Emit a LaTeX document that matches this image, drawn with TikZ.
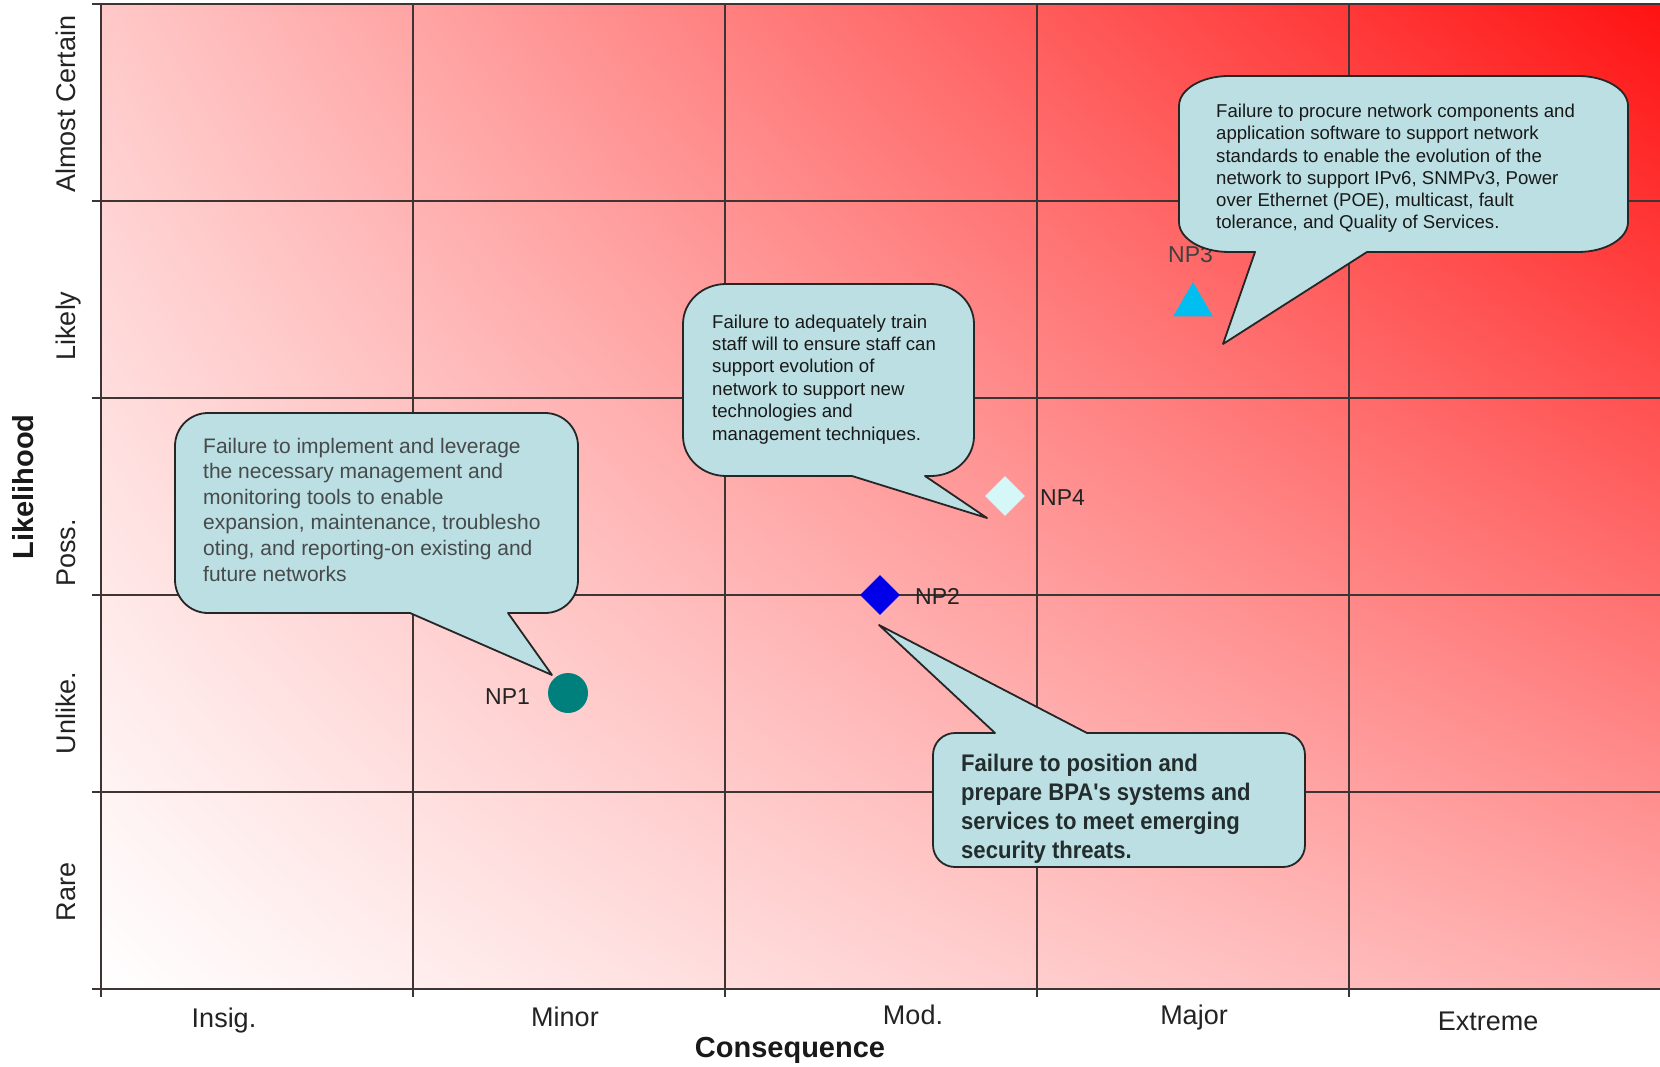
\documentclass[tikz,border=0pt]{standalone}
\usepackage{fontspec}
\setmainfont{Liberation Sans}
\newfontfamily\condbold[FakeStretch=0.92]{Liberation Sans}
\usetikzlibrary{shapes.geometric,shadings}

\definecolor{heatUL}{RGB}{255,200,200}
\definecolor{heatUR}{RGB}{255,18,18}
\definecolor{heatLR}{RGB}{255,172,172}
\definecolor{gridline}{RGB}{62,52,52}
\definecolor{calloutfill}{RGB}{187,223,227}
\definecolor{npone}{RGB}{0,128,124}
\definecolor{nptwo}{RGB}{0,0,232}
\definecolor{npthree}{RGB}{0,190,240}
\definecolor{npfour}{RGB}{214,247,248}
\definecolor{labeltext}{RGB}{35,35,35}

\begin{document}
\begin{tikzpicture}[x=1pt,y=-1pt,
  gridstroke/.style={draw=gridline,line width=1.6pt},
  catlabel/.style={font=\fontsize{27}{32}\selectfont,text=labeltext,anchor=base,inner sep=0pt},
  axistitle/.style={font=\bfseries\fontsize{29}{34}\selectfont,text=black!90,anchor=base,inner sep=0pt},
  nplabel/.style={font=\fontsize{23}{27}\selectfont,text=labeltext,anchor=base west,inner sep=0pt},
  callout/.style={fill=calloutfill,draw=black!85,line width=1.8pt,line join=round},
  % multi-line text: the base anchor sits on the last line
  callouttext/.style={anchor=base west,align=left,inner sep=0pt},
]
\useasboundingbox (0,0) rectangle (1660,1067);
\fill[white] (0,0) rectangle (1660,1067);

% heat-map background: white at low risk, red at high risk
\shade[shading=bilinear interpolation,lower left=white,upper left=heatUL,upper right=heatUR,lower right=heatLR]
  (101,4) rectangle (1660,989);

% grid with ticks
\foreach \y in {4,201,398,595,792,989}
  \draw[gridstroke] (92,\y) -- (1660,\y);
\foreach \x in {101,413,725,1037,1349}
  \draw[gridstroke] (\x,4) -- (\x,997);

% likelihood categories
\node[catlabel,rotate=90] (lac) at (75,104) {Almost Certain};
\node[catlabel,rotate=90] (lli) at (75,326) {Likely};
\node[catlabel,rotate=90] (lpo) at (75,553) {Poss.};
\node[catlabel,rotate=90] (lun) at (75,713) {Unlike.};
\node[catlabel,rotate=90] (lra) at (75,892) {Rare};
\node[axistitle,rotate=90] (ltitle) at (33,487) {Likelihood};

% consequence categories
\node[catlabel] (cin) at (224,1027) {Insig.};
\node[catlabel] (cmi) at (565,1026) {Minor};
\node[catlabel] (cmo) at (913,1024) {Mod.};
\node[catlabel] (cma) at (1194,1024) {Major};
\node[catlabel] (cex) at (1488,1030) {Extreme};
\node[axistitle] (ctitle) at (790,1057) {Consequence};

% risk markers
\node[circle,fill=npone,minimum size=40pt,inner sep=0pt] (np1) at (568,693) {};
\node[nplabel] (np1l) at (485,704) {NP1};
\node[diamond,fill=nptwo,minimum size=40pt,inner sep=0pt] (np2) at (880,595) {};
\node[nplabel] (np2l) at (915,604) {NP2};
\node[diamond,fill=npfour,minimum size=40pt,inner sep=0pt] (np4) at (1005,496) {};
\node[nplabel] (np4l) at (1040,505) {NP4};
\node[regular polygon,regular polygon sides=3,fill=npthree,minimum size=46pt,inner sep=0pt] (np3) at (1193,305) {};
\node[nplabel,text=black!75] (np3l) at (1168,263) {NP3};

% pointer tips
\coordinate (t1) at (552,675);
\coordinate (t2) at (987,518);
\coordinate (t3) at (1223,344);
\coordinate (t4) at (879,625);

% callout for NP1
\filldraw[callout] (208,413) -- (545,413)
  arc[start angle=270,end angle=360,x radius=33,y radius=33] -- (578,580)
  arc[start angle=0,end angle=90,x radius=33,y radius=33] -- (508,613) -- (t1) -- (410,613) -- (208,613)
  arc[start angle=90,end angle=180,x radius=33,y radius=33] -- (175,446)
  arc[start angle=180,end angle=270,x radius=33,y radius=33] -- cycle;
\node[callouttext,font=\fontsize{21}{25.6}\selectfont,text={rgb,255:red,70;green,74;blue,74}] (c1) at (203,581)
  {Failure to implement and leverage\\the necessary management  and\\monitoring tools to enable\\expansion, maintenance, troublesho\\oting, and reporting-on existing and\\future networks};

% callout for NP4
\filldraw[callout] (726,284) -- (931,284)
  arc[start angle=270,end angle=360,x radius=43,y radius=40] -- (974,436)
  arc[start angle=0,end angle=90,x radius=43,y radius=40] -- (925,476) -- (t2) -- (852,476) -- (726,476)
  arc[start angle=90,end angle=180,x radius=43,y radius=40] -- (683,324)
  arc[start angle=180,end angle=270,x radius=43,y radius=40] -- cycle;
\node[callouttext,font=\fontsize{18.6}{22.4}\selectfont,text=black!90] (c2) at (712,440)
  {Failure to adequately train\\staff will to ensure staff can\\support evolution of\\network to support new\\technologies and\\management techniques.};

% callout for NP3
\filldraw[callout] (1229,76) -- (1578,76)
  arc[start angle=270,end angle=360,x radius=50,y radius=30] -- (1628,222)
  arc[start angle=0,end angle=90,x radius=50,y radius=30] -- (1367,252) -- (t3) -- (1255,252) -- (1229,252)
  arc[start angle=90,end angle=180,x radius=50,y radius=30] -- (1179,106)
  arc[start angle=180,end angle=270,x radius=50,y radius=30] -- cycle;
\node[callouttext,font=\fontsize{18.6}{22.3}\selectfont,text=black!90] (c3) at (1216,229)
  {Failure to procure network components and\\application software to support network\\standards to enable the evolution of the\\network to support IPv6, SNMPv3, Power\\over Ethernet (POE), multicast, fault\\tolerance, and Quality of Services.};

% callout for NP2
\filldraw[callout] (955,733) -- (995,733) -- (t4) -- (1087,733) -- (1283,733)
  arc[start angle=270,end angle=360,x radius=22,y radius=22] -- (1305,845)
  arc[start angle=0,end angle=90,x radius=22,y radius=22] -- (955,867)
  arc[start angle=90,end angle=180,x radius=22,y radius=22] -- (933,755)
  arc[start angle=180,end angle=270,x radius=22,y radius=22] -- cycle;
\node[callouttext,font=\condbold\bfseries\fontsize{24}{29}\selectfont,text={rgb,255:red,35;green,45;blue,45}] (c4) at (961,858)
  {Failure to position and\\prepare BPA's systems and\\services to meet emerging\\security threats.};
\end{tikzpicture}
\end{document}
